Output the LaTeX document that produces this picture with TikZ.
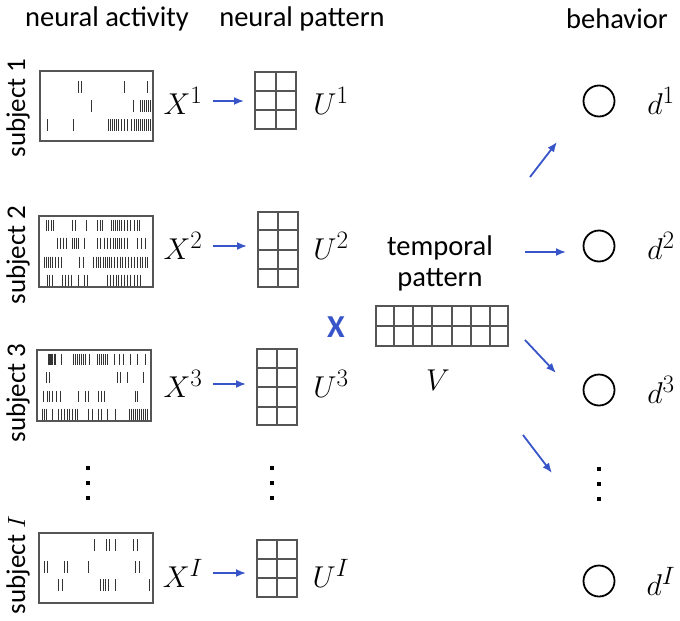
\documentclass[tikz,border=0pt]{standalone}
\usepackage[no-math]{fontspec}
\newfontfamily\carl{Carlito}
\usetikzlibrary{calc,arrows.meta}
\definecolor{boxgray}{RGB}{85,85,85}
\definecolor{arrblue}{RGB}{55,85,200}
\newcommand{\cellgrid}[3]{%
  \foreach \f in {#2}{\draw[gridline] ($(#1.north west)!\f!(#1.north east)$) -- ($(#1.south west)!\f!(#1.south east)$);}%
  \foreach \f in {#3}{\draw[gridline] ($(#1.north west)!\f!(#1.south west)$) -- ($(#1.north east)!\f!(#1.south east)$);}}
\newcommand{\spikes}[3]{\foreach \sx in {#3}{\draw[spike] (\sx,#1-#2) -- (\sx,#1+#2);}}
\newcommand{\ml}[1]{\scalebox{1.21}{$#1$}}
\begin{document}
\begin{tikzpicture}[x=1pt,y=-1pt,
  title/.style={font=\carl\fontsize{28.5}{32}\selectfont, inner sep=0pt},
  subj/.style={font=\carl\fontsize{27}{30}\selectfont, rotate=90, inner sep=0pt},
  mlab/.style={font=\fontsize{24.88}{30}\selectfont, inner sep=0pt},
  raster/.style={draw=boxgray, line width=1.8pt, inner sep=0pt},
  spike/.style={line width=0.8pt, draw=black!80},
  ugrid/.style={draw=boxgray, line width=2pt, inner sep=0pt},
  gridline/.style={draw=boxgray, line width=2pt},
  arr/.style={draw=arrblue, line width=1.8pt, -{Latex[length=10pt,width=8pt]}},
  outc/.style={circle, draw=black, line width=1.8pt, minimum size=31pt, inner sep=0pt},
  dotm/.style={fill=black, minimum size=4.5pt, inner sep=0pt}]
\useasboundingbox (0,0) rectangle (680,621);
% titles
\node[title] (t1) at (107,19) {neural activity};
\node[title] (t2) at (302,19) {neural pattern};
\node[title] (t3) at (617,19) {behavior};
% subject labels
\node[subj] (s1) at (18,108) {subject 1};
\node[subj] (s2) at (18,255) {subject 2};
\node[subj] (s3) at (18,393) {subject 3};
\node[subj] (s4) at (18,565) {subject $I$};
% raster boxes
\node[raster, minimum width=113pt, minimum height=70pt] (r1) at (96.5,106) {};
\node[raster, minimum width=114pt, minimum height=71pt] (r2) at (96,251.5) {};
\node[raster, minimum width=114pt, minimum height=71pt] (r3) at (94,385.5) {};
\node[raster, minimum width=114pt, minimum height=70pt] (r4) at (96,568) {};
% spikes box 1
\spikes{87}{6}{78,81,124,147}
\spikes{106}{6}{91,133,140,142,144,146,148,150}
\spikes{125}{6}{47,73,108,110,112,114,116,118,121,124,127,131,134,136,138,140,142,144,146,148,150}
% spikes box 2
\spikes{225}{5.5}{46,48,51,53,72,75,86,97,100,102,111,113,115,117,119,121,124,127,130,134,137,139}
\spikes{243}{5.5}{57,60,63,66,72,74,76,78,84,97,100,104,107,110,113,115,117,119,121,124,127,137,141,145}
\spikes{262}{5.5}{44,46,48,50,52,55,58,61,79,83,93,96,98,100,103,105,107,109,111,114,117,120,122,125,128,131,134,137,140,142,145,147}
\spikes{280}{5.5}{47,49,52,62,65,68,71,78,84,87,107,110,113,116,118,121,124,127,130,134,137,140}
% spikes box 3
\spikes{359}{5.5}{48,49.2,50.4,51.6,52.8,54,55.2,61,73,75,77,79,81,83,85,89,97,99,101,103,105,107,114,119,123,130,137,145}
\spikes{377}{5.5}{46,49,117,120,127,143}
\spikes{396}{5.5}{43,47,49,52,56,60,78,85,88,98,101,104,135,137}
\spikes{414}{5.5}{42,44,46,52,58,61,64,67,69,72,75,77,88,92,98,101,107,115,129,131,133,135,137,139,141,143,145,147}
% spikes box I
\spikes{545}{6}{94,106,109,115,133,137}
\spikes{567}{6}{44,47,64,67,88,88.8,135,139}
\spikes{585}{6}{58,62,100,103,105,108,115,149}
% X labels
\node[mlab] (x1) at (183,101) {\ml{X^1}};
\node[mlab] (x2) at (183,246) {\ml{X^2}};
\node[mlab] (x3) at (183,384) {\ml{X^3}};
\node[mlab] (x4) at (183,573) {\ml{X^I}};
% U grids
\node[ugrid, minimum width=41pt, minimum height=57pt] (u1) at (275.5,100.5) {};
\node[ugrid, minimum width=40pt, minimum height=75pt] (u2) at (278,249.5) {};
\node[ugrid, minimum width=40pt, minimum height=76pt] (u3) at (277,387) {};
\node[ugrid, minimum width=40pt, minimum height=57pt] (u4) at (277,568.5) {};
\cellgrid{u1}{1/2}{1/3,2/3}
\cellgrid{u2}{1/2}{1/4,2/4,3/4}
\cellgrid{u3}{1/2}{1/4,2/4,3/4}
\cellgrid{u4}{1/2}{1/3,2/3}
% U labels
\node[mlab] (ul1) at (331,101) {\ml{U^1}};
\node[mlab] (ul2) at (331,246) {\ml{U^2}};
\node[mlab] (ul3) at (331,384) {\ml{U^3}};
\node[mlab] (ul4) at (331,573) {\ml{U^I}};
% arrows X -> U
\draw[arr] (213,0 |- x1.east) -- ([xshift=-10pt]x1.east -| u1.west);
\draw[arr] (213,0 |- x2.east) -- ([xshift=-10pt]x2.east -| u2.west);
\draw[arr] (213,0 |- x3.east) -- ([xshift=-10pt]x3.east -| u3.west);
\draw[arr] (213,0 |- x4.east) -- ([xshift=-10pt]x4.east -| u4.west);
% vertical dots
\foreach \yy [count=\k] in {468,483,498}{
  \node[dotm] (dl\k) at (88,\yy) {};
  \node[dotm] (dm\k) at (272,\yy) {};
  \node[dotm] (dr\k) at (599,\yy+1) {};
}
% temporal pattern
\node[title] (tp1) at (440,248) {temporal};
\node[title] (tp2) at (440,280) {pattern};
\node[ugrid, minimum width=132pt, minimum height=40pt] (v) at (442,326) {};
\cellgrid{v}{1/7,2/7,3/7,4/7,5/7,6/7}{1/2}
\node[mlab] (vl) at (438,380) {\ml{V}};
\node[font=\carl\bfseries\fontsize{32}{34}\selectfont, text=arrblue, inner sep=0pt] (times) at (336,327) {X};
% behavior
\node[outc] (c1) at (599,101) {};
\node[outc] (c2) at (599,246) {};
\node[outc] (c3) at (599,390) {};
\node[outc] (c4) at (599,581) {};
\node[mlab] (d1) at (661,101) {\ml{d^1}};
\node[mlab] (d2) at (661,246) {\ml{d^2}};
\node[mlab] (d3) at (661,390) {\ml{d^3}};
\node[mlab] (d4) at (661,581) {\ml{d^I}};
% arrows V -> behavior
\coordinate (a1s) at (530,177);
\coordinate (a1e) at (557,142);
\coordinate (a2s) at (525,252);
\coordinate (a2e) at (566,252);
\coordinate (a3s) at (525,340);
\coordinate (a3e) at (556,373);
\coordinate (a4s) at (523,435);
\coordinate (a4e) at (552,473);
\draw[arr] (a1s) -- (a1e);
\draw[arr] (a2s) -- (a2e);
\draw[arr] (a3s) -- (a3e);
\draw[arr] (a4s) -- (a4e);
\end{tikzpicture}
\end{document}
